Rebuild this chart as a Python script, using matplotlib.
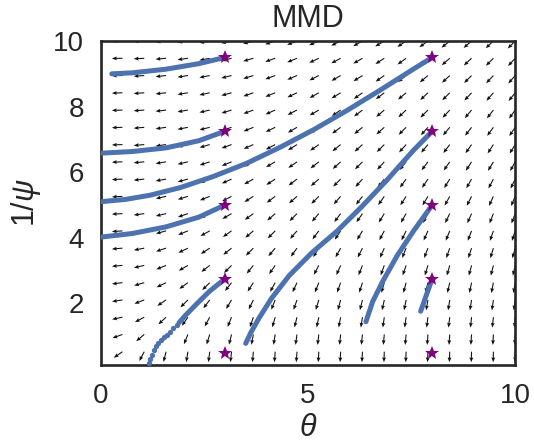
import numpy as np
import matplotlib
matplotlib.use("Agg")
import matplotlib.pyplot as plt

plt.rcParams['font.family'] = ['Liberation Sans', 'DejaVu Sans']
plt.rcParams['mathtext.fontset'] = 'custom'
plt.rcParams['mathtext.rm'] = 'Liberation Sans'
plt.rcParams['mathtext.it'] = 'Liberation Sans:italic'

# ---- data ----
grid = np.linspace(0, 10, 20)            # quiver grid (theta and 1/psi)
# arrow angle below the leftward horizontal (deg); rows: 1/psi from 10 down to 0.53,
# columns: theta from 0.53 to 10
arrow_angle = [
    [1, 3, 5, 7, 10, 12, 15, 18, 21, 23, 26, 29, 31, 34, 36, 39, 41, 43, 45],
    [1, 3, 5, 8, 11, 13, 16, 19, 22, 25, 28, 30, 33, 36, 38, 41, 43, 45, 47],
    [1, 4, 6, 9, 11, 14, 17, 20, 23, 27, 30, 32, 35, 38, 40, 43, 45, 47, 49],
    [2, 4, 6, 9, 12, 15, 19, 22, 25, 29, 31, 35, 37, 40, 43, 45, 47, 49, 51],
    [2, 4, 7, 10, 13, 17, 20, 24, 27, 30, 34, 37, 40, 43, 45, 47, 50, 52, 54],
    [2, 5, 8, 11, 14, 18, 22, 26, 30, 33, 36, 39, 42, 45, 48, 50, 52, 54, 56],
    [2, 5, 8, 12, 16, 20, 24, 28, 32, 35, 39, 42, 45, 48, 50, 53, 55, 57, 58],
    [2, 5, 9, 13, 18, 22, 26, 30, 35, 38, 42, 45, 48, 51, 53, 55, 57, 59, 61],
    [3, 6, 10, 15, 20, 24, 29, 33, 37, 41, 45, 48, 51, 54, 56, 58, 60, 62, 64],
    [3, 7, 12, 17, 22, 27, 32, 37, 41, 45, 49, 52, 55, 57, 59, 61, 63, 65, 67],
    [3, 8, 13, 19, 25, 30, 36, 41, 45, 49, 53, 55, 58, 60, 62, 64, 66, 68, 69],
    [4, 9, 15, 22, 29, 35, 40, 45, 49, 53, 56, 59, 62, 64, 66, 68, 69, 71, 72],
    [5, 11, 18, 26, 33, 39, 45, 50, 54, 58, 61, 63, 66, 68, 69, 71, 72, 73, 74],
    [5, 13, 22, 30, 38, 45, 51, 55, 59, 62, 66, 68, 70, 71, 73, 74, 75, 76, 77],
    [7, 16, 26, 36, 45, 52, 57, 61, 65, 68, 70, 72, 74, 75, 76, 77, 78, 79, 80],
    [9, 21, 34, 45, 53, 59, 64, 68, 71, 73, 75, 76, 78, 79, 80, 81, 81, 82, 82],
    [12, 28, 43, 55, 62, 68, 71, 74, 76, 78, 79, 81, 82, 82, 83, 83, 84, 84, 85],
    [20, 40, 58, 68, 73, 76, 79, 81, 82, 83, 84, 84, 85, 85, 86, 86, 86, 87, 87],
    [35, 62, 76, 81, 83, 84, 85, 86, 86, 87, 87, 87, 88, 88, 88, 88, 88, 89, 89],
]

start_theta = [3, 3, 3, 3, 3, 8, 8, 8, 8, 8]
start_inv_psi = [0.5, 2.75, 5.0, 7.25, 9.5, 0.5, 2.75, 5.0, 7.25, 9.5]

traj_a_x = [3.0, 2.37, 1.57, 0.76, 0.27]
traj_a_y = [9.5, 9.31, 9.14, 9.03, 9.00]
traj_b_x = [3.0, 2.37, 1.57, 0.76, 0.0]
traj_b_y = [7.25, 6.96, 6.74, 6.63, 6.58]
traj_c_x = [3.0, 2.37, 1.57, 0.76, 0.0]
traj_c_y = [5.0, 4.63, 4.33, 4.13, 4.02]
traj_d_x = [8.0, 7.54, 6.74, 5.94, 5.13, 4.33, 3.52, 2.72, 1.92, 1.2, 0.6, 0.0]
traj_d_y = [9.5, 9.14, 8.50, 7.88, 7.29, 6.76, 6.27, 5.87, 5.53, 5.30, 5.17, 5.10]
traj_e_x = [8.0, 7.54, 6.9, 6.3, 5.7, 5.1, 4.55, 4.12, 3.82, 3.62, 3.50]
traj_e_y = [7.25, 6.66, 5.75, 4.95, 4.20, 3.55, 2.85, 2.15, 1.55, 1.10, 0.78]
traj_f_x = [8.0, 7.56, 7.16, 6.80, 6.56, 6.40]
traj_f_y = [5.0, 4.23, 3.47, 2.66, 2.05, 1.44]
traj_g_x = [8.0, 7.87, 7.72]
traj_g_y = [2.75, 2.30, 1.76]
traj_h_x = [3.0, 2.61, 2.29, 2.05, 1.89]
traj_h_y = [2.75, 2.35, 1.95, 1.64, 1.41]
traj_h_dots_x = [1.85, 1.75, 1.67, 1.61, 1.53, 1.45, 1.39, 1.34, 1.29, 1.23, 1.18, 1.17]
traj_h_dots_y = [1.34, 1.24, 1.14, 1.04, 0.97, 0.88, 0.78, 0.71, 0.58, 0.43, 0.30, 0.18]

x_ticks = [0, 5, 10]
y_ticks = [2, 4, 6, 8, 10]

# ---- figure ----
fig = plt.figure(figsize=(5.34, 4.43), dpi=100)
ax = fig.add_axes([0.1884, 0.176, 0.7764, 0.7314])

ang = np.radians(np.array(arrow_angle, dtype=float))
X, Y = np.meshgrid(grid[1:], grid[1:][::-1])
U = -np.cos(ang)
V = -np.sin(ang)
ax.quiver(X, Y, U, V, angles='uv', scale_units='inches', scale=9.5,
          width=0.0026, headwidth=3.6, headlength=4.5, headaxislength=4.0,
          color='#111111', zorder=2)

ax.axvline(0, color='#C44E52', lw=1.6, zorder=2.4)

blue = '#4C72B0'
for tx, ty in [(traj_a_x, traj_a_y), (traj_b_x, traj_b_y), (traj_c_x, traj_c_y),
               (traj_d_x, traj_d_y), (traj_e_x, traj_e_y), (traj_f_x, traj_f_y),
               (traj_g_x, traj_g_y), (traj_h_x, traj_h_y)]:
    ax.plot(tx, ty, color=blue, lw=3.6, solid_capstyle='round',
            solid_joinstyle='round', zorder=3)
ax.plot(traj_h_dots_x, traj_h_dots_y, 'o', color=blue, ms=3.8, mew=0, zorder=3)

ax.plot(start_theta, start_inv_psi, '*', color='purple', ms=10.5, mew=0, zorder=4)

ax.set_xlim(0, 10)
ax.set_ylim(0.12, 10)
ax.set_xticks(x_ticks)
ax.set_yticks(y_ticks)
ax.tick_params(length=0, labelsize=20, colors='#262626')
ax.tick_params(axis='x', pad=13)
ax.tick_params(axis='y', pad=12)
for s in ax.spines.values():
    s.set_color('#262626')
    s.set_linewidth(1.9)
ax.set_xlabel(r'$\theta$', fontsize=22, color='#262626', labelpad=3)
ax.set_ylabel(r'$1/\psi$', fontsize=22, color='#262626', labelpad=7)
ax.set_title('MMD', fontsize=22, color='#262626', pad=10)

fig.savefig('out.png', dpi=100)
